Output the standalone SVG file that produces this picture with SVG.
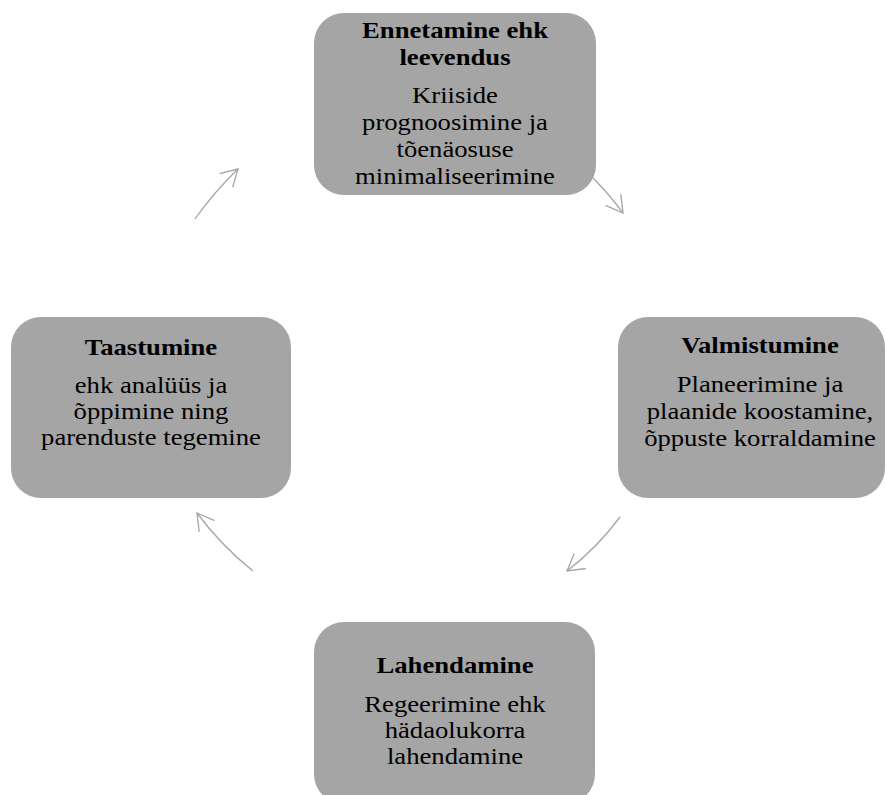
<svg xmlns="http://www.w3.org/2000/svg" width="886" height="795" viewBox="0 0 886 795">
<style>
.box{fill:#a5a5a5;stroke:none}
.t{font-family:"Liberation Serif","Times New Roman",serif;font-size:23px;fill:#000;text-anchor:middle}
.b{font-weight:bold}
.conn{fill:none;stroke:#a5a5a5;stroke-width:1.3}
</style>
<defs>
<marker id="ah" markerUnits="userSpaceOnUse" markerWidth="40" markerHeight="40" viewBox="-20 -20 40 40" refX="0" refY="0" orient="auto" overflow="visible">
<path d="M-16.5,-9.5 L0,0 L-16.5,9.5" fill="none" stroke="#a5a5a5" stroke-width="1.3"/>
</marker>
</defs>
<rect width="886" height="795" fill="#fff"/>
<g id="connectors">
<path class="conn" d="M593,178 Q608.8,193.8 623,213" marker-end="url(#ah)"/>
<path class="conn" d="M620,517 Q597.2,547.8 567,571" marker-end="url(#ah)"/>
<path class="conn" d="M253,571 Q221.3,545.8 197,513" marker-end="url(#ah)"/>
<path class="conn" d="M195,219 Q214,192 238,169" marker-end="url(#ah)"/>
</g>
<g id="node-ennetamine">
<rect class="box" x="314" y="13" width="282" height="182" rx="30"/>
<g transform="translate(455,0) scale(1.16,1)">
<text class="t b" x="0" y="38">Ennetamine ehk</text>
<text class="t b" x="0" y="65">leevendus</text>
<text class="t" x="0" y="103">Kriiside</text>
<text class="t" x="0" y="130">prognoosimine ja</text>
<text class="t" x="0" y="157">tõenäosuse</text>
<text class="t" x="0" y="184">minimaliseerimine</text>
</g>
</g>
<g id="node-valmistumine">
<rect class="box" x="618" y="317" width="267" height="181" rx="30"/>
<g transform="translate(760,0) scale(1.16,1)">
<text class="t b" x="0" y="353">Valmistumine</text>
<text class="t" x="0" y="392">Planeerimine ja</text>
<text class="t" x="0" y="419">plaanide koostamine,</text>
<text class="t" x="0" y="446">õppuste korraldamine</text>
</g>
</g>
<g id="node-lahendamine">
<rect class="box" x="314" y="622" width="281" height="182" rx="30"/>
<g transform="translate(455,0) scale(1.16,1)">
<text class="t b" x="0" y="673">Lahendamine</text>
<text class="t" x="0" y="712">Regeerimine ehk</text>
<text class="t" x="0" y="738">hädaolukorra</text>
<text class="t" x="0" y="764">lahendamine</text>
</g>
</g>
<g id="node-taastumine">
<rect class="box" x="11" y="317" width="280" height="181" rx="30"/>
<g transform="translate(151,0) scale(1.16,1)">
<text class="t b" x="0" y="355">Taastumine</text>
<text class="t" x="0" y="393">ehk analüüs ja</text>
<text class="t" x="0" y="419">õppimine ning</text>
<text class="t" x="0" y="445">parenduste tegemine</text>
</g>
</g>
</svg>
